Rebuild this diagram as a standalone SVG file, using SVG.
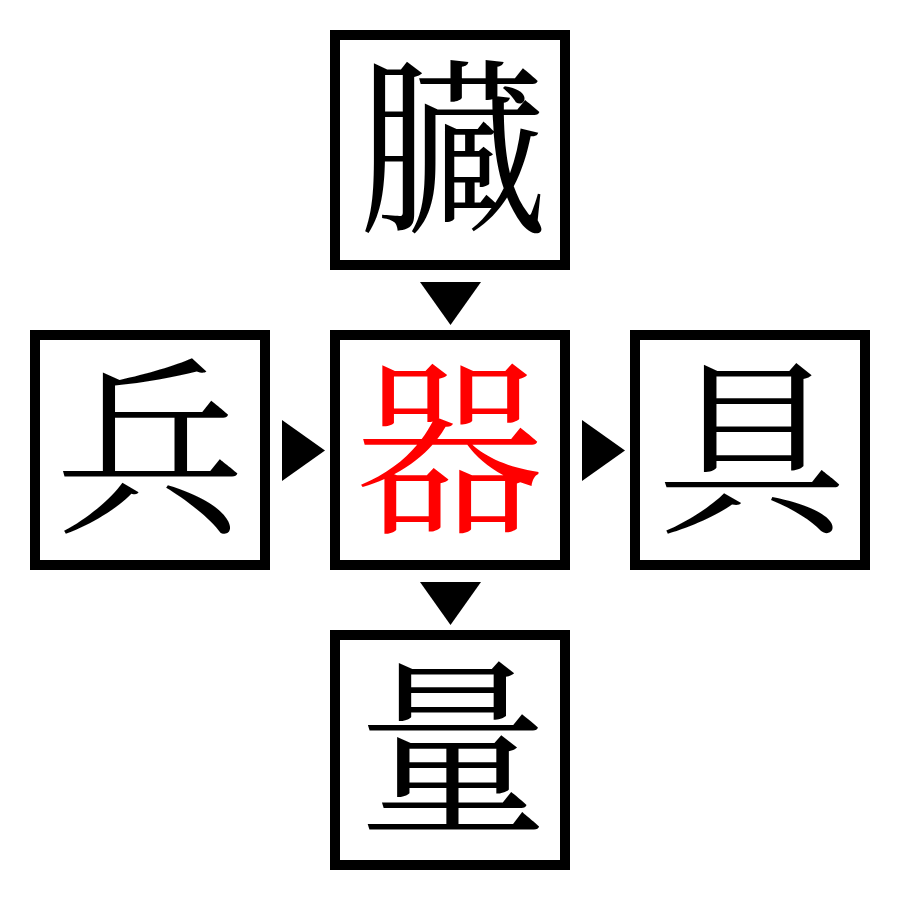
<svg xmlns="http://www.w3.org/2000/svg" width="900" height="900" viewBox="0 0 900 900">
<style>
.box{fill:#fff;stroke:#000;stroke-width:10}
.ch{font-family:"Noto Serif CJK JP","Noto Sans CJK JP",serif;font-size:190px;text-anchor:middle;fill:#000}
.red{fill:#f00}
.arr{fill:#000}
</style>
<rect width="900" height="900" fill="#fff"/>
<g id="top"><rect class="box" x="335" y="35" width="230" height="230"/><text class="ch" x="452" y="218">臓</text></g>
<g id="left"><rect class="box" x="35" y="335" width="230" height="230"/><text class="ch" x="150" y="518">兵</text></g>
<g id="center"><rect class="box" x="335" y="335" width="230" height="230"/><text class="ch red" x="450" y="518">器</text></g>
<g id="right"><rect class="box" x="635" y="335" width="230" height="230"/><text class="ch" x="752" y="518">具</text></g>
<g id="bottom"><rect class="box" x="335" y="635" width="230" height="230"/><text class="ch" x="453" y="818">量</text></g>
<g id="connectors">
<polygon class="arr" points="420,282 481,282 450.5,325"/>
<polygon class="arr" points="282,420 282,481 325,450.5"/>
<polygon class="arr" points="582,420 582,481 625,450.5"/>
<polygon class="arr" points="420,582 481,582 450.5,625"/>
</g>
</svg>
